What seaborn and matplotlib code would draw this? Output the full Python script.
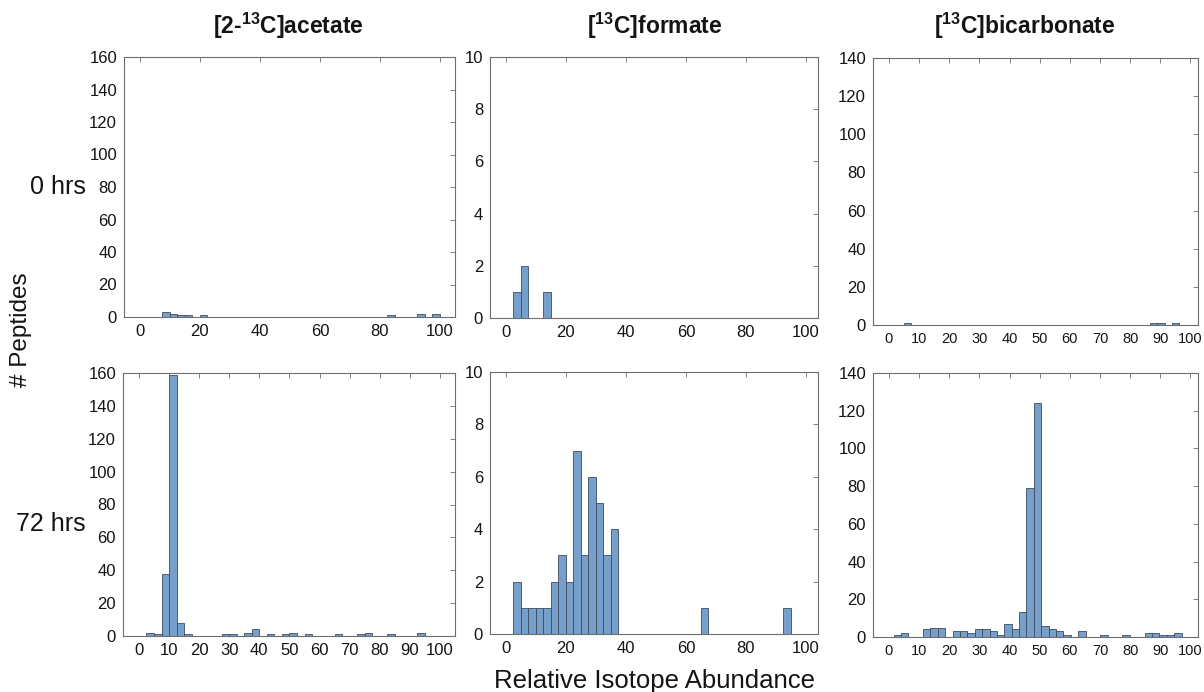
import numpy as np
import pandas as pd
import seaborn as sns
import matplotlib
matplotlib.use("Agg")
import matplotlib.pyplot as plt

# tracer labels (columns) and time points (rows)
tracers = ["[2-$^{\\mathbf{13}}$C]acetate", "[$^{\\mathbf{13}}$C]formate", "[$^{\\mathbf{13}}$C]bicarbonate"]
timepoints = ["0 hrs", "72 hrs"]

# histogram bins: first edge, bin width (relative isotope abundance, %)
acetate_bins = (0.0, 2.5)
formate_bins = (0.0, 2.5)
bicarb_0h_bins = (5.0, 2.4)
bicarb_72h_bins = (1.5, 2.45)

# peptide counts per bin
acetate_0h = [0, 0, 0, 3, 2, 1, 1, 0, 1, 0, 0, 0, 0, 0, 0, 0, 0, 0, 0, 0,
              0, 0, 0, 0, 0, 0, 0, 0, 0, 0, 0, 0, 0, 1, 0, 0, 0, 2, 0, 2]
acetate_72h = [0, 2, 1, 38, 159, 8, 1, 0, 0, 0, 0, 1, 1, 0, 2, 4, 0, 1, 0, 1,
               2, 0, 1, 0, 0, 0, 1, 0, 0, 1, 2, 0, 0, 1, 0, 0, 0, 2, 0, 0]
formate_0h = [0, 1, 2, 0, 0, 1, 0, 0, 0, 0, 0, 0, 0, 0, 0, 0, 0, 0, 0, 0,
              0, 0, 0, 0, 0, 0, 0, 0, 0, 0, 0, 0, 0, 0, 0, 0, 0, 0, 0, 0]
formate_72h = [0, 2, 1, 1, 1, 1, 2, 3, 2, 7, 3, 6, 5, 3, 4, 0, 0, 0, 0, 0,
               0, 0, 0, 0, 0, 0, 1, 0, 0, 0, 0, 0, 0, 0, 0, 0, 0, 1, 0, 0]
bicarb_0h = [1, 0, 0, 0, 0, 0, 0, 0, 0, 0, 0, 0, 0, 0, 0, 0, 0, 0, 0, 0,
             0, 0, 0, 0, 0, 0, 0, 0, 0, 0, 0, 0, 0, 0, 1, 1, 0, 1]
bicarb_72h = [1, 2, 0, 0, 4, 5, 5, 0, 3, 3, 2, 4, 4, 3, 1, 7, 4, 13, 79, 124,
              6, 4, 3, 1, 0, 3, 0, 0, 1, 0, 0, 1, 0, 0, 2, 2, 1, 1, 2]

# axis settings per column
y_max = [160, 10, 140]
y_step = [20, 2, 20]
x_lims = [(-5.3, 105), (-5.3, 104), (-5.3, 102.5)]
x_step_top = [20, 20, 10]
x_step_bottom = [10, 20, 10]
x_label_size = [12, 12, 10.5]

sns.set_theme(style="white")
plt.rcParams["font.family"] = ["Liberation Sans", "DejaVu Sans"]
plt.rcParams["mathtext.fontset"] = "custom"
plt.rcParams["mathtext.rm"] = "Liberation Sans"
plt.rcParams["mathtext.bf"] = "Liberation Sans:bold"

BAR = "#779fcc"
EDGE = "#3d4b5c"
SPINE = "#6e6e6e"
TXT = "#141414"

fig = plt.figure(figsize=(12.04, 6.92), dpi=100)

# axes boxes in pixels: (left, top, right, bottom)
boxes = [
    [(124, 57, 455, 317), (490, 57, 818, 318), (873, 58, 1198, 325)],
    [(123, 373, 455, 636), (490, 372, 818, 634), (873, 373, 1198, 637)],
]
panels = [
    [(acetate_0h, acetate_bins), (formate_0h, formate_bins), (bicarb_0h, bicarb_0h_bins)],
    [(acetate_72h, acetate_bins), (formate_72h, formate_bins), (bicarb_72h, bicarb_72h_bins)],
]

W, H = 1204, 692
for r in range(2):
    for c in range(3):
        l, t, rr, b = boxes[r][c]
        ax = fig.add_axes([l / W, 1 - b / H, (rr - l) / W, (b - t) / H])
        counts, (start, width) = panels[r][c]
        nb = len(counts)
        edges = start + width * np.arange(nb + 1)
        df = pd.DataFrame({"abundance": (edges[:-1] + edges[1:]) / 2,
                           "n": np.array(counts, dtype=float)})
        sns.histplot(data=df, x="abundance", weights="n", bins=nb,
                     binrange=(edges[0], edges[-1]), ax=ax,
                     color=BAR, edgecolor=EDGE, linewidth=0.6, alpha=1.0)
        ax.set_xlim(*x_lims[c])
        ax.set_ylim(0, y_max[c])
        step = x_step_top[c] if r == 0 else x_step_bottom[c]
        ax.set_xticks(np.arange(0, 101, step))
        ax.set_yticks(np.arange(0, y_max[c] + 1, y_step[c]))
        ax.set_xlabel("")
        ax.set_ylabel("")
        ax.tick_params(direction="in", length=3.5, width=0.6, color=SPINE,
                       top=True, right=True, labelsize=12, labelcolor=TXT, pad=5)
        ax.tick_params(axis="x", labelsize=x_label_size[c])
        for s in ax.spines.values():
            s.set_color(SPINE)
            s.set_linewidth(0.8)

# column titles
title_x = [288, 655, 1025]
for c in range(3):
    fig.text(title_x[c] / W, 1 - 26 / H, tracers[c], ha="center", va="center",
             fontsize=16.5, fontweight="bold", color=TXT)

# row labels
fig.text(86 / W, 1 - 187 / H, timepoints[0], ha="right", va="center", fontsize=18, color=TXT)
fig.text(86 / W, 1 - 524 / H, timepoints[1], ha="right", va="center", fontsize=18, color=TXT)
fig.text(21 / W, 1 - 330 / H, "# Peptides", rotation=90, ha="center", va="center",
         fontsize=17.5, color=TXT)
fig.text(655 / W, 1 - 681 / H, "Relative Isotope Abundance", ha="center", va="center",
         fontsize=18.5, color=TXT)

fig.savefig("out.png", dpi=100)
